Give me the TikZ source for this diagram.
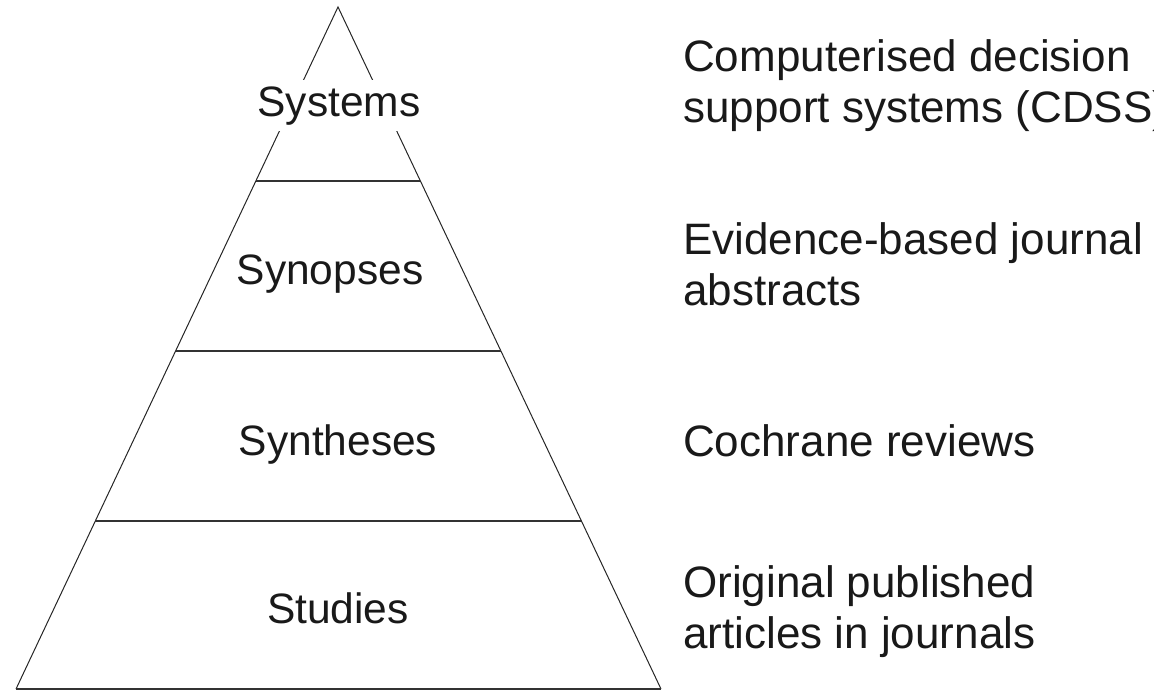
\documentclass[tikz,border=0pt]{standalone}
\usepackage{fontspec}
\setmainfont{Liberation Sans}
\usetikzlibrary{calc}
\begin{document}
\begin{tikzpicture}[x=1pt,y=-1pt,
  sideline/.style={line width=1pt, draw=black!85},
  tierline/.style={line width=1.4pt, draw=black!80},
  lbl/.style={font=\fontsize{42.5}{50}\selectfont, inner sep=0pt, anchor=base, text=black!90},
  desc/.style={font=\fontsize{44}{51}\selectfont, inner sep=0pt, anchor=base west, text=black!90}]
\useasboundingbox (0,0) rectangle (1154,691);
\coordinate (apex) at (338,7);
\coordinate (bl) at (16,689);
\coordinate (br) at (661,689);
\draw[sideline] (bl) -- (apex) -- (br);
\draw[tierline] (bl) -- (br);
\draw[tierline] ($(apex)!0.2551!(bl)$) coordinate (t1l) -- ($(apex)!0.2551!(br)$) coordinate (t1r);
\draw[tierline] ($(apex)!0.5044!(bl)$) coordinate (t2l) -- ($(apex)!0.5044!(br)$) coordinate (t2r);
\draw[tierline] ($(apex)!0.7537!(bl)$) coordinate (t3l) -- ($(apex)!0.7537!(br)$) coordinate (t3r);
% tier labels
\node[lbl, fill=white, inner ysep=6pt, inner xsep=1pt] (systems) at (339,116) {Systems};
\node[lbl] (synopses) at (330,284) {Synopses};
\node[lbl] (syntheses) at (338,455) {Syntheses};
\node[lbl] (studies) at (338,623) {Studies};
% descriptions
\node[desc] (cdss1) at (683,71) {Computerised decision};
\node[desc] (cdss2) at (683,122) {support systems (CDSS)};
\node[desc] (ebj1) at (683,254) {Evidence-based journal};
\node[desc] (ebj2) at (683,305) {abstracts};
\node[desc] (coch) at (683,456) {Cochrane reviews};
\node[desc] (orig1) at (683,597) {Original published};
\node[desc] (orig2) at (683,648) {articles in journals};
\end{tikzpicture}
\end{document}
